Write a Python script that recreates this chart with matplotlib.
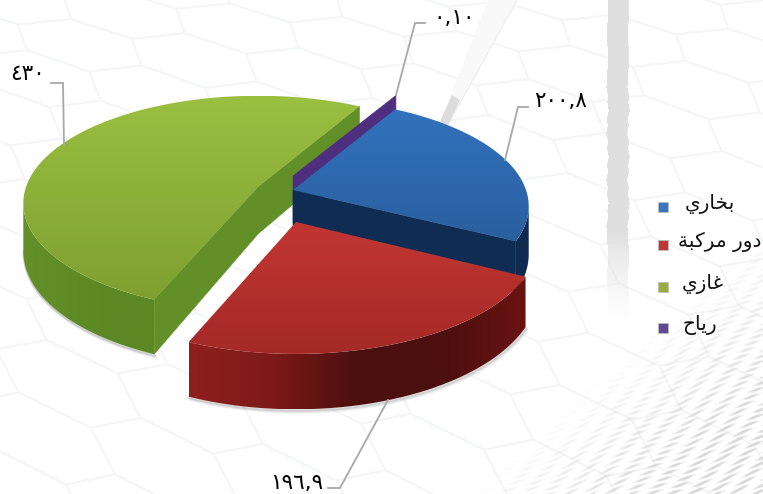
import numpy as np
import matplotlib
matplotlib.use('Agg')
import matplotlib.pyplot as plt
from matplotlib.collections import LineCollection
from matplotlib.colors import to_rgb
from matplotlib.patches import Polygon

plt.rcParams['font.family'] = ['DejaVu Sans']

categories = ['بخاري', 'دور مركبة', 'غازي', 'رياح']
values = [200.8, 196.9, 430, 0.10]
value_labels = ['200,8', '196,9', '430', '0,10']

W, H = 763, 494
START_ANGLE = 29.7
TILT_P = 0.151
DEPTH = 47

# forms: isolated, final, initial, medial
FORMS = {
    'ب': '\uFE8F\uFE90\uFE91\uFE92', 'خ': '\uFEA5\uFEA6\uFEA7\uFEA8',
    'ا': '\uFE8D\uFE8E', 'ر': '\uFEAD\uFEAE', 'ي': '\uFEF1\uFEF2\uFEF3\uFEF4',
    'د': '\uFEA9\uFEAA', 'و': '\uFEED\uFEEE', 'م': '\uFEE1\uFEE2\uFEE3\uFEE4',
    'ك': '\uFED9\uFEDA\uFEDB\uFEDC', 'ة': '\uFE93\uFE94',
    'غ': '\uFECD\uFECE\uFECF\uFED0', 'ز': '\uFEAF\uFEB0',
    'ح': '\uFEA1\uFEA2\uFEA3\uFEA4',
}


def shape_arabic(text):
    # matplotlib does no shaping, so pick the joined forms and reverse by hand
    out = []
    for i, ch in enumerate(text):
        if ch not in FORMS:
            out.append(ch)
            continue
        prev_joins = i > 0 and text[i - 1] in FORMS and len(FORMS[text[i - 1]]) == 4
        next_joins = i + 1 < len(text) and text[i + 1] in FORMS and len(FORMS[ch]) == 4
        out.append(FORMS[ch][(1 if prev_joins else 0) + (2 if next_joins else 0)])
    return ''.join(reversed(out))


def arabic_digits(text):
    return text.translate(str.maketrans('0123456789', '٠١٢٣٤٥٦٧٨٩'))


def project(apex, rx, ry, theta, z=0.0):
    t = np.radians(theta)
    k = 1 / (1 + TILT_P * np.cos(t))
    return apex[0] + rx * np.sin(t) * k, apex[1] - ry * np.cos(t) * k + DEPTH * z * k


def hex_lines():
    # skewed hexagon lattice, gets bigger towards the bottom of the picture
    def warp(p):
        x, y = p
        return x + 0.00125 * y * y, y + 0.00172 * y * y

    e1 = np.array([60.0, 18.0])
    e2 = np.array([-53.0, 5.0])
    e3 = np.array([-7.0, -23.0])
    a1 = e1 - e2
    a2 = e1 - e3
    origin = np.array([24.3, 46.5])
    segs = []
    for i in range(-14, 22):
        for j in range(-14, 22):
            v = origin + i * a1 + j * a2
            for e in (e1, e2, e3):
                segs.append([warp(v + e * s) for s in np.linspace(0, 1, 5)])
    return segs


def gradient_fill(ax, poly, stops, zorder, horizontal=False):
    xs, ys = zip(*poly)
    f = np.linspace(0, 1, 256)
    pos = np.linspace(0, 1, len(stops))
    rgb = np.stack([np.interp(f, pos, [to_rgb(c)[n] for c in stops]) for n in range(3)], axis=-1)
    rgb = rgb[None, :, :] if horizontal else rgb[:, None, :]
    im = ax.imshow(rgb, extent=(min(xs), max(xs), max(ys), min(ys)), aspect='auto', zorder=zorder,
                   interpolation='bilinear')
    patch = Polygon(poly, closed=True, transform=ax.transData, fc='none', ec='none')
    ax.add_patch(patch)
    im.set_clip_path(patch)


def draw_slice(ax, apex, rx, ry, a0, a1, top, walls, cut, zorder, shadow=False):
    thetas = np.linspace(a0, a1, max(2, int(abs(a1 - a0) * 1.5)))
    top_arc = [project(apex, rx, ry, t) for t in thetas]
    low_arc = [project(apex, rx, ry, t, 1) for t in thetas]
    # only the stretch where x falls as the angle grows faces the viewer
    keep = [i for i in range(len(thetas) - 1) if top_arc[i + 1][0] <= top_arc[i][0]]
    if keep:
        keep = keep + [keep[-1] + 1]
    top_front = [top_arc[i] for i in keep]
    low_front = [low_arc[i] for i in keep]
    if shadow:
        # soft grey edge under the wall
        for off, alpha in ((3.0, 0.07), (2.0, 0.1), (1.0, 0.16)):
            ax.plot([p[0] + off * 0.5 for p in low_front], [p[1] + off for p in low_front], color='#555555',
                    alpha=alpha, lw=2, zorder=zorder - 0.2, solid_capstyle='round')
    if abs(a1 - a0) > 1 and len(keep) > 1:
        gradient_fill(ax, top_front + low_front[::-1], walls, zorder, horizontal=True)
    # radial cuts, only the ones turned towards the viewer
    for a, normal in ((a0, a0 - 90), (a1, a1 + 90)):
        if np.cos(np.radians(normal)) < 0:
            quad = [apex, project(apex, rx, ry, a), project(apex, rx, ry, a, 1), (apex[0], apex[1] + DEPTH)]
            ax.add_patch(Polygon(quad, closed=True, fc=cut, ec=cut, lw=0.4, zorder=zorder + 0.2))
    if abs(a1 - a0) > 1:
        gradient_fill(ax, [apex] + top_arc, top, zorder + 0.5)


fig = plt.figure(figsize=(W / 100, H / 100), dpi=100)
ax = fig.add_axes([0, 0, 1, 1])
ax.axis('off')

# background: hexagons
ax.add_collection(LineCollection(hex_lines(), colors='#f3f6f6', linewidths=1.4, zorder=1))

# streaks in the lower right corner
yy, xx = np.mgrid[0:H, 0:W]
v = yy + 0.36 * xx
u = xx - 0.36 * yy
streak = np.clip(np.sin(v * 1.15 + 2.2 * np.sin(u * 0.045)) * 0.5 + 0.5 * np.sin(u * 0.19 + v * 0.31), 0, 1)
ramp = np.clip((xx - 560) / 203 + (yy - 310) / 184 - 0.55, 0, 1)
tex = np.zeros((H, W, 4))
tex[..., :3] = 0.82
tex[..., 3] = np.clip(streak * ramp * 1.1, 0, 0.85)
ax.imshow(tex, extent=(0, W, H, 0), aspect='auto', zorder=1.5)

# grey vertical band
edge = 0.6 * np.sin(yy * 0.13) + 0.5 * np.sin(yy * 0.41)
speck = 0.5 + 0.5 * np.sin(xx * 2.1 + yy * 1.3) * np.sin(xx * 0.7 - yy * 2.3)
band_alpha = ((xx > 607 + edge) & (xx < 628 + edge)).astype(float)
fade = np.clip((322 - yy) / 90, 0, 1)
band = np.zeros((H, W, 4))
band[..., :3] = 0.875
band[..., 3] = band_alpha * np.where(yy < 230, 1.0, fade * (fade + (1 - fade) * speck))
band[yy > 322] = 0
ax.imshow(band, extent=(0, W, H, 0), aspect='auto', zorder=1.6)

# thin diagonal strip behind the pie
ax.add_patch(Polygon([(488, 0), (517, 0), (448, 125), (440, 122)], closed=True, fc='#f9f9f9', ec='none', zorder=1.7))
ax.plot([517, 448], [0, 125], color='#ececec', lw=0.8, zorder=1.75)
ax.add_patch(Polygon([(452, 95), (460, 100), (448, 125), (440, 122)], closed=True, fc='#dcdcdc', ec='none', zorder=1.8))

# angles come from the values, clockwise from 12 o'clock
total = sum(values)
ends = START_ANGLE + np.cumsum(values) / total * 360
starts = np.concatenate([[START_ANGLE], ends[:-1]])

# each slice is pulled out by its own amount
draw_slice(ax, (258, 187), 232, 105, starts[2], ends[2], ('#9abf41', '#7f9f30'),
           ['#64902a', '#5f8c26', '#5c8824', '#5c8824'], '#628f28', 3, shadow=True)
draw_slice(ax, (293, 176), 235, 105, starts[3], ends[3], ('#4f2e80', '#4f2e80'), ['#4f2e80'], '#4f2e80', 4)
draw_slice(ax, (293, 190), 233, 105, starts[0], ends[0], ('#3272bd', '#2a5f9f'),
           ['#0f2a50', '#0f2a50'], '#0f2c53', 5)
draw_slice(ax, (296, 222), 240, 112, starts[1], ends[1], ('#c23632', '#a42a28'),
           ['#8f201d', '#7c1a18', '#4b0f0e', '#4b0f0e', '#6a1412'], '#6a1412', 6, shadow=True)

# leader lines
leaders = [
    ([505, 518, 528], [160, 107, 107]),
    ([388, 340, 328], [400, 488, 488]),
    ([64, 63, 51], [145, 83, 83]),
    ([396, 415, 425], [95, 23, 23]),
]
label_pos = [(561, 101), (297, 483), (27, 74), (454, 18)]
for (lx, ly), (tx, ty), lab in zip(leaders, label_pos, value_labels):
    ax.plot(lx, ly, color='#a8a8a8', lw=1.3, zorder=8, solid_joinstyle='miter')
    ax.text(tx, ty, arabic_digits(lab), ha='center', va='center', fontsize=15.5, color='black', zorder=9)

# legend
legend_y = [207, 245, 287, 328]
legend_x = [685, 678, 682, 682]
legend_colors = ['#3a76bd', '#bf3538', '#98ae3c', '#5e4a98']
for cat, y, x, c in zip(categories, legend_y, legend_x, legend_colors):
    ax.scatter([663], [y], marker='s', s=52, color=c, edgecolor='#bdbdbd', linewidth=0.6, zorder=9)
    ax.text(x, y - 3, shape_arabic(cat), ha='left', va='center', fontsize=14.5, color='#111111', zorder=9)

ax.set_xlim(0, W)
ax.set_ylim(H, 0)
fig.savefig('out.png', dpi=100, facecolor='white')
